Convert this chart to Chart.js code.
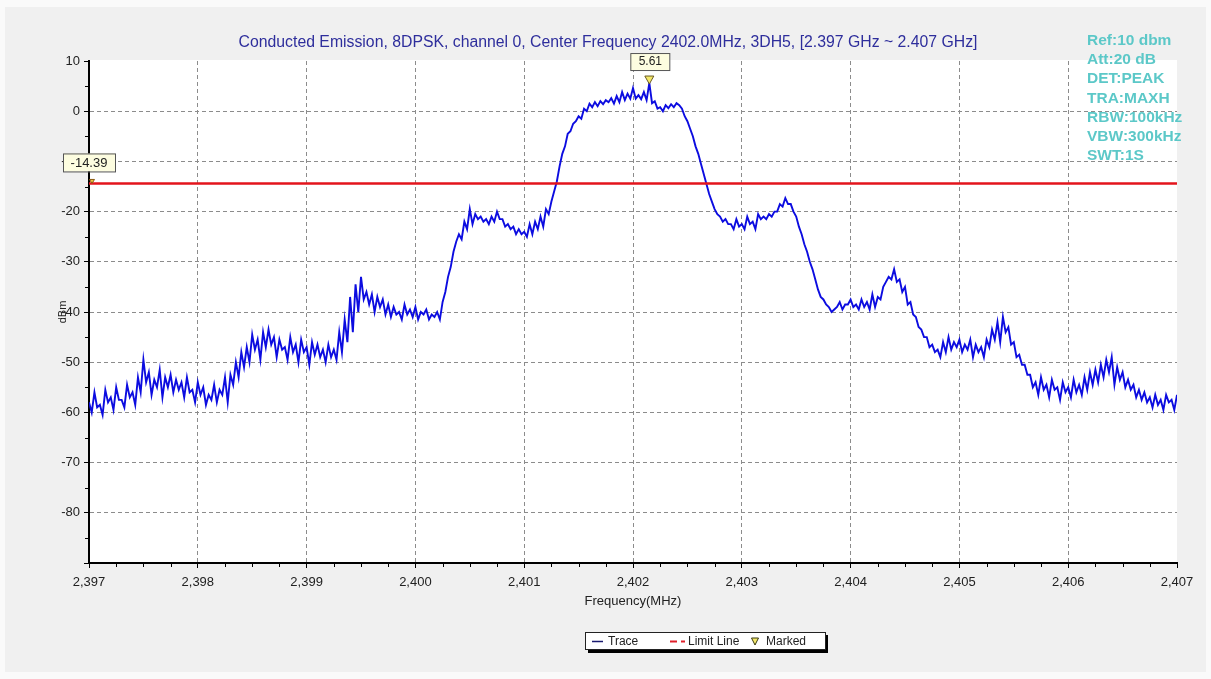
<!DOCTYPE html>
<html><head><meta charset="utf-8">
<script src="https://cdn.jsdelivr.net/npm/chart.js@4.4.1/dist/chart.umd.min.js"></script>
<style>
html,body{margin:0;padding:0;background:#fafafa;}
#panel{position:absolute;left:5px;top:7px;width:1201px;height:665px;background:#f0f0f0;}
#wrap{position:absolute;left:0;top:0;width:1211px;height:679px;}
</style></head><body>
<div id="panel"></div>
<div id="wrap"><canvas id="c" width="1211" height="679"></canvas></div>
<script>
const FONT = "'Liberation Sans', Arial, sans-serif";

// Frequency grid (MHz)
const freqStart = 2397;
const freqEnd = 2407;
const freqStep = 0.05;

// Trace: upper value of each 0.05 MHz bin (dBm)
const tracePeak = [
  -58, -56, -58.5, -55.5, -57, -55, -57.5, -54.5, -56, -53,
  -49.5, -52, -53.5, -51.5, -53, -52.5, -53.5, -54, -53, -55.5,
  -54, -55, -56.5, -54.5, -55.5, -53, -52.5, -50, -48, -47,
  -44.5, -45.5, -44, -43.5, -45, -45.5, -47, -45, -46.5, -45.5,
  -47, -46, -46.5, -47.5, -46.5, -47.5, -44, -41.5, -37, -34.5,
  -33, -36, -36.5, -37, -37.5, -38.5, -39, -40, -38.5, -39.5,
  -39, -40, -39.5, -40.5, -40, -38, -33, -28, -24.5, -22,
  -19.5, -20.5, -21, -21.5, -21, -20, -21.5, -22.5, -23, -23.5,
  -24, -22.5, -22, -21, -19.5, -18, -14, -8.5, -4.5, -2.5,
  -1, 0.5, 1.5, 1.8, 2, 2.2, 2.6, 3, 3.8, 3.5,
  4.6, 3.2, 3.8, 5.61, 2, 0.8, 1.2, 1.4, 1.6, 0.5,
  -2, -5, -8.5, -12.5, -16.5, -19.5, -21, -21.5, -22.5, -21.5,
  -22.5, -21, -22, -20.5, -21, -20.5, -20, -18.5, -17.3, -18.5,
  -21, -24.5, -28, -31.5, -35.5, -37.5, -39, -39.5, -38, -38.5,
  -37.5, -38.5, -37.5, -38, -36.5, -37, -35, -33, -31.5, -33.5,
  -35, -38, -41, -43.5, -45, -46.5, -47.5, -46, -45, -46,
  -45.5, -46.5, -45.5, -46.5, -47, -45.5, -43.5, -42, -41, -43,
  -46, -48.5, -50.5, -52.5, -54, -53, -54.5, -53.5, -55, -54,
  -55, -53.5, -54.5, -53, -52, -51.5, -50.5, -49.5, -49, -51,
  -52, -53.5, -54.5, -55.5, -56, -57, -56.5, -57.5, -56.5, -57.5,
  -56.5
];

// Trace: lower (dip) value of each bin, half a bin later (dBm)
const traceDip = [
  -60, -59, -60.5, -58, -59.5, -57.5, -59, -57, -58.5, -56,
  -54, -56.5, -55, -57, -55, -56, -55.5, -57, -56, -58,
  -56.5, -58.5, -57.5, -58, -56.5, -58, -54.5, -53, -51, -50,
  -47.5, -49.5, -47, -46.5, -49, -47.5, -49.5, -48, -50, -48,
  -50.5, -48.5, -49, -50, -49, -49.5, -48, -46, -44, -40,
  -37.5, -38.5, -40, -39, -40.5, -41, -40.5, -41.5, -40.5, -41,
  -41.5, -40.5, -41.5, -41, -41.5, -36, -31, -26, -25.5, -23.5,
  -22.5, -21.5, -22, -22.5, -22, -21.5, -23, -23.5, -24.5, -24.5,
  -25, -24.5, -23.5, -23, -20.5, -16, -11, -7, -4, -2,
  -1.5, 0, 0.8, 1, 1.4, 1.8, 1.5, 1.8, 2.2, 2.5,
  2.5, 2.4, 2.2, 1.6, 0.5, 0, 0.6, 0.8, 1.2, -1,
  -3.5, -7, -10.5, -14.5, -18, -20.5, -22, -22.5, -23.5, -23,
  -23.5, -22.5, -23.5, -21.5, -21.5, -21, -20, -19, -18.5, -20,
  -23, -26.5, -30, -33.5, -37, -38.5, -40, -39, -39.5, -38.5,
  -39, -39.5, -39, -39.5, -39, -37.5, -34, -33.5, -34, -36,
  -38.5, -40.5, -43, -45, -47, -48, -49, -48, -47.5, -47,
  -48, -47.5, -49, -48, -49, -47, -45.5, -46, -44, -46.5,
  -49, -50.5, -52.5, -55, -56.5, -55.5, -57, -55.5, -57.5, -56,
  -57, -56, -56.5, -55.5, -54.5, -54, -53, -52, -54.5, -53.5,
  -55, -55.5, -57, -57.5, -58, -59, -58.5, -59.5, -58, -59.5
];

const limitValue = -14.39;
const markerFreq = 2402.15;
const markerValue = 5.61;

const xTickValues = [2397, 2398, 2399, 2400, 2401, 2402, 2403, 2404, 2405, 2406, 2407];
const yTickValues = [10, 0, -10, -20, -30, -40, -50, -60, -70, -80];
const yMin = -90, yMax = 10;

const titleText = "Conducted Emission, 8DPSK, channel 0, Center Frequency 2402.0MHz, 3DH5, [2.397 GHz ~ 2.407 GHz]";
const infoLines = ["Ref:10 dbm", "Att:20 dB", "DET:PEAK", "TRA:MAXH", "RBW:100kHz", "VBW:300kHz", "SWT:1S"];
const legendLabels = ["Trace", "Limit Line", "Marked"];

// Build the trace from the two read-off arrays
const traceData = [];
for (let i = 0; i < tracePeak.length; i++) {
  traceData.push({x: freqStart + i * freqStep, y: tracePeak[i]});
  if (i < traceDip.length) traceData.push({x: freqStart + (i + 0.5) * freqStep, y: traceDip[i]});
}
const limitData = [{x: freqStart, y: limitValue}, {x: freqEnd, y: limitValue}];

function tri(ctx, cx, top, w, h, fill, stroke) {
  ctx.beginPath();
  ctx.moveTo(cx - w / 2, top);
  ctx.lineTo(cx + w / 2, top);
  ctx.lineTo(cx, top + h);
  ctx.closePath();
  ctx.fillStyle = fill; ctx.fill();
  ctx.lineWidth = 1; ctx.strokeStyle = stroke; ctx.stroke();
}

const decor = {
  id: 'decor',
  beforeDraw(chart) {
    const {ctx, chartArea: a} = chart;
    ctx.save();
    ctx.fillStyle = '#ffffff';
    ctx.fillRect(a.left, a.top - 1, a.right - a.left, a.bottom - a.top + 1);
    ctx.restore();
  },
  afterDraw(chart) {
    const {ctx, chartArea: a, scales: {x, y}} = chart;
    ctx.save();
    // title
    ctx.font = "15.8px " + FONT;
    ctx.fillStyle = '#2e2e9c';
    ctx.textAlign = 'center';
    ctx.textBaseline = 'middle';
    ctx.fillText(titleText, 608, 43);
    // info text
    ctx.font = "bold 15.5px " + FONT;
    ctx.fillStyle = '#5cc8c8';
    ctx.textAlign = 'left';
    infoLines.forEach((t, i) => ctx.fillText(t, 1087, 41 + i * 19.1));
    // minor ticks
    ctx.strokeStyle = '#000'; ctx.lineWidth = 1;
    ctx.beginPath();
    for (let f = freqStart; f <= freqEnd + 1e-9; f += 0.25) {
      if (Math.abs(f - Math.round(f)) < 1e-6) continue;
      const px = Math.round(x.getPixelForValue(f)) + 0.5;
      ctx.moveTo(px, a.bottom); ctx.lineTo(px, a.bottom + 4);
    }
    for (let v = yMin; v <= yMax; v += 5) {
      if (v % 10 === 0) continue;
      const py = Math.round(y.getPixelForValue(v)) + 0.5;
      ctx.moveTo(a.left - 4, py); ctx.lineTo(a.left, py);
    }
    ctx.stroke();
    // limit label
    const ly = y.getPixelForValue(limitValue);
    ctx.fillStyle = '#fdfde0'; ctx.strokeStyle = '#555';
    ctx.fillRect(63, ly - 30, 52, 18);
    ctx.strokeRect(63.5, ly - 29.5, 52, 18);
    ctx.fillStyle = '#222'; ctx.font = "13px " + FONT; ctx.textAlign = 'center';
    ctx.fillText(limitValue.toFixed(2), 89, ly - 20.5);
    tri(ctx, x.getPixelForValue(freqStart) + 3, ly - 4, 5, 4, '#f0c040', '#8a5a10');
    // marker
    const mx = x.getPixelForValue(markerFreq), my = y.getPixelForValue(markerValue);
    tri(ctx, mx, my - 7, 9, 8, '#f3e86a', '#6a5a20');
    ctx.fillStyle = '#fdfde0'; ctx.strokeStyle = '#555';
    ctx.fillRect(mx - 19, my - 30, 39, 17);
    ctx.strokeRect(mx - 18.5, my - 29.5, 39, 17);
    ctx.fillStyle = '#222'; ctx.font = "12px " + FONT; ctx.textAlign = 'center';
    ctx.fillText(markerValue.toFixed(2), mx + 1, my - 21);
    // legend
    ctx.fillStyle = '#000';
    ctx.fillRect(588, 635, 240, 18);
    ctx.fillStyle = '#fff';
    ctx.fillRect(585, 632, 240, 18);
    ctx.strokeStyle = '#222'; ctx.strokeRect(585.5, 632.5, 240, 17);
    ctx.strokeStyle = '#1a1a70'; ctx.lineWidth = 1.5;
    ctx.beginPath(); ctx.moveTo(592, 641.5); ctx.lineTo(603, 641.5); ctx.stroke();
    ctx.strokeStyle = '#e0202a'; ctx.lineWidth = 2;
    ctx.beginPath(); ctx.moveTo(670, 641.5); ctx.lineTo(677, 641.5);
    ctx.moveTo(681, 641.5); ctx.lineTo(685, 641.5); ctx.stroke();
    tri(ctx, 755, 638, 7, 7, '#f3e86a', '#3a3a10');
    ctx.fillStyle = '#222'; ctx.font = "12px " + FONT; ctx.textAlign = 'left';
    ctx.fillText(legendLabels[0], 608, 641.5);
    ctx.fillText(legendLabels[1], 688, 641.5);
    ctx.fillText(legendLabels[2], 766, 641.5);
    ctx.restore();
  }
};

const edgeGrid = (vals) => (c) => (c.tick && vals.includes(c.tick.value)) ? 'rgba(0,0,0,0)' : '#8c8c8c';

new Chart(document.getElementById('c'), {
  type: 'line',
  data: {
    datasets: [
      {label: 'Trace', data: traceData, borderColor: '#0c0ce0', borderWidth: 1.9, pointRadius: 0, tension: 0, order: 2},
      {label: 'Limit Line', data: limitData, borderColor: '#e3141c', borderWidth: 2.5, pointRadius: 0, order: 1}
    ]
  },
  options: {
    responsive: false,
    devicePixelRatio: 1,
    animation: false,
    parsing: true,
    layout: {padding: {left: 0, top: 61, right: 34, bottom: 66}},
    plugins: {legend: {display: false}, tooltip: {enabled: false}, title: {display: false}},
    scales: {
      x: {
        type: 'linear', min: freqStart, max: freqEnd,
        afterFit(s) { s.height = 50; },
        afterBuildTicks(s) { s.ticks = xTickValues.map(v => ({value: v})); },
        ticks: {autoSkip: false, maxRotation: 0, padding: 7, color: '#222', font: {family: FONT, size: 13},
          callback: v => v.toLocaleString('en-US')},
        grid: {color: edgeGrid([freqStart, freqEnd]), tickColor: '#000', tickLength: 5, lineWidth: 1},
        border: {display: true, color: '#000', width: 2, dash: [4, 3]},
        title: {display: true, text: 'Frequency(MHz)', color: '#222', font: {family: FONT, size: 13}, padding: {top: 0, bottom: 4}}
      },
      y: {
        type: 'linear', min: yMin, max: yMax,
        afterFit(s) { s.width = 89; },
        afterBuildTicks(s) { s.ticks = [yMin].concat(yTickValues.slice().reverse()).map(v => ({value: v})); },
        ticks: {padding: 4, color: '#222', font: {family: FONT, size: 13},
          callback: v => (v === yMin ? '' : String(v))},
        grid: {color: edgeGrid([yMin, yMax]), tickColor: '#000', tickLength: 5, lineWidth: 1},
        border: {display: true, color: '#000', width: 2, dash: [4, 3]},
        title: {display: true, text: 'dBm', color: '#222', font: {family: FONT, size: 11}, padding: {top: 56, bottom: 0}}
      }
    }
  },
  plugins: [decor]
});
</script>
</body></html>
